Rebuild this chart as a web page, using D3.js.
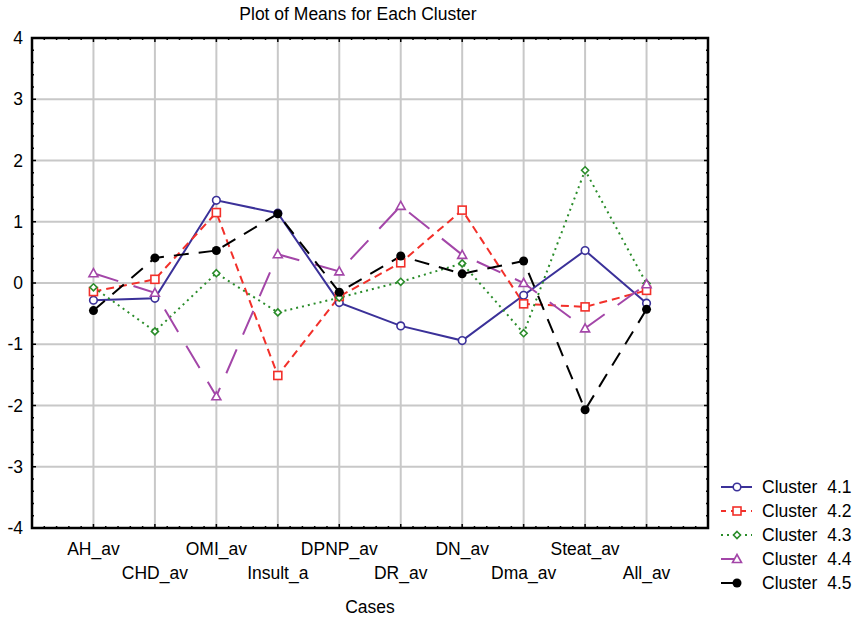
<!DOCTYPE html>
<html>
<head>
<meta charset="utf-8">
<script src="https://d3js.org/d3.v7.min.js"></script>
<style>
  body { margin: 0; background: #fff; }
  svg { font-family: "Liberation Sans", Arial, sans-serif; }
</style>
</head>
<body>
<div id="chart"></div>
<script>
// categories and cluster means
const categories = ["AH_av", "CHD_av", "OMI_av", "Insult_a", "DPNP_av", "DR_av", "DN_av", "Dma_av", "Steat_av", "All_av"];
const cluster41 = [-0.28, -0.25, 1.35, 1.14, -0.32, -0.70, -0.94, -0.20, 0.53, -0.33];
const cluster42 = [-0.14, 0.06, 1.15, -1.51, -0.22, 0.33, 1.19, -0.34, -0.39, -0.12];
const cluster43 = [-0.07, -0.79, 0.16, -0.48, -0.24, 0.02, 0.32, -0.82, 1.84, -0.01];
const cluster44 = [0.16, -0.16, -1.85, 0.47, 0.19, 1.26, 0.46, 0.00, -0.74, -0.02];
const cluster45 = [-0.45, 0.41, 0.53, 1.13, -0.15, 0.44, 0.15, 0.36, -2.07, -0.43];
const yTicks = [-4, -3, -2, -1, 0, 1, 2, 3, 4];

const series = [
  { name: "Cluster  4.1", values: cluster41, color: "#3b3199", dash: null, marker: "circle" },
  { name: "Cluster  4.2", values: cluster42, color: "#f2302a", dash: "8,5", marker: "square" },
  { name: "Cluster  4.3", values: cluster43, color: "#2a8c2a", dash: "2,4", marker: "diamond" },
  { name: "Cluster  4.4", values: cluster44, color: "#a346a8", dash: "26,16", marker: "triangle" },
  { name: "Cluster  4.5", values: cluster45, color: "#000000", dash: "15,10", marker: "dot" }
];

const width = 856, height = 618;
const plot = { left: 32, right: 708, top: 38, bottom: 528 };

const svg = d3.select("#chart").append("svg")
  .attr("width", width)
  .attr("height", height);

// x positions: category i sits at i+1 of 11 intervals
const x = d3.scaleLinear().domain([0, categories.length + 1]).range([plot.left, plot.right]);
const y = d3.scaleLinear().domain([-4, 4]).range([plot.bottom, plot.top]);

// grid
svg.append("g").selectAll("line").data(categories).enter().append("line")
  .attr("x1", (d, i) => x(i + 1)).attr("x2", (d, i) => x(i + 1))
  .attr("y1", plot.top).attr("y2", plot.bottom)
  .attr("stroke", "#c8c8c8").attr("stroke-width", 2);
svg.append("g").selectAll("line").data(yTicks.slice(1, -1)).enter().append("line")
  .attr("x1", plot.left).attr("x2", plot.right)
  .attr("y1", d => y(d)).attr("y2", d => y(d))
  .attr("stroke", "#c8c8c8").attr("stroke-width", 2);

// minor ticks on all four sides
const yMinor = d3.range(-40, 41, 2).map(d => d / 10);
const xMinor = d3.range(0, (categories.length + 1) * 5 + 1).map(d => d / 5);
const ticks = svg.append("g").attr("stroke", "#000");
yMinor.forEach(v => {
  const len = Number.isInteger(v) ? 4 : 2;
  ticks.append("line").attr("x1", plot.left).attr("x2", plot.left + len).attr("y1", y(v)).attr("y2", y(v)).attr("stroke-width", 1.5);
  ticks.append("line").attr("x1", plot.right).attr("x2", plot.right - len).attr("y1", y(v)).attr("y2", y(v)).attr("stroke-width", 1.5);
});
xMinor.forEach(v => {
  const len = Number.isInteger(v) ? 4 : 2;
  ticks.append("line").attr("x1", x(v)).attr("x2", x(v)).attr("y1", plot.top).attr("y2", plot.top + len).attr("stroke-width", 1.5);
  ticks.append("line").attr("x1", x(v)).attr("x2", x(v)).attr("y1", plot.bottom).attr("y2", plot.bottom - len).attr("stroke-width", 1.5);
});

// frame
svg.append("rect")
  .attr("x", plot.left).attr("y", plot.top)
  .attr("width", plot.right - plot.left).attr("height", plot.bottom - plot.top)
  .attr("fill", "none").attr("stroke", "#000").attr("stroke-width", 2.5);

// y tick labels
svg.append("g").selectAll("text").data(yTicks).enter().append("text")
  .attr("x", plot.left - 9).attr("y", d => y(d) + 6)
  .attr("text-anchor", "end")
  .attr("font-size", 17.5)
  .text(d => d);

// x tick labels, staggered
svg.append("g").selectAll("text").data(categories).enter().append("text")
  .attr("x", (d, i) => x(i + 1))
  .attr("y", (d, i) => i % 2 === 0 ? 555 : 579)
  .attr("text-anchor", "middle")
  .attr("font-size", 17.5)
  .text(d => d);

// titles
svg.append("text").attr("x", 358).attr("y", 20).attr("text-anchor", "middle")
  .attr("font-size", 17.5).text("Plot of Means for Each Cluster");
svg.append("text").attr("x", (plot.left + plot.right) / 2).attr("y", 613).attr("text-anchor", "middle")
  .attr("font-size", 17.5).text("Cases");

function drawMarker(g, type, cx, cy, color) {
  if (type === "circle") {
    g.append("circle").attr("cx", cx).attr("cy", cy).attr("r", 3.8)
      .attr("fill", "#fff").attr("stroke", color).attr("stroke-width", 1.6);
  } else if (type === "square") {
    g.append("rect").attr("x", cx - 4).attr("y", cy - 4).attr("width", 8).attr("height", 8)
      .attr("fill", "#fff").attr("stroke", color).attr("stroke-width", 1.6);
  } else if (type === "diamond") {
    g.append("path").attr("d", `M${cx},${cy - 3.5}L${cx + 3.5},${cy}L${cx},${cy + 3.5}L${cx - 3.5},${cy}Z`)
      .attr("fill", "#fff").attr("stroke", color).attr("stroke-width", 1.6);
  } else if (type === "triangle") {
    g.append("path").attr("d", `M${cx},${cy - 4.5}L${cx + 4.5},${cy + 3.5}L${cx - 4.5},${cy + 3.5}Z`)
      .attr("fill", "#fff").attr("stroke", color).attr("stroke-width", 1.6);
  } else {
    g.append("circle").attr("cx", cx).attr("cy", cy).attr("r", 4.5).attr("fill", color);
  }
}

const line = d3.line().x((d, i) => x(i + 1)).y(d => y(d));

series.forEach(s => {
  svg.append("path")
    .attr("d", line(s.values))
    .attr("fill", "none")
    .attr("stroke", s.color)
    .attr("stroke-width", 2)
    .attr("stroke-dasharray", s.dash);
});
series.forEach(s => {
  const g = svg.append("g");
  s.values.forEach((v, i) => drawMarker(g, s.marker, x(i + 1), y(v), s.color));
});

// legend
const legend = svg.append("g");
series.forEach((s, i) => {
  const ly = 487 + i * 24;
  const solidShort = s.marker === "triangle" || s.marker === "dot";
  legend.append("line")
    .attr("x1", 721).attr("x2", solidShort ? 740 : 752).attr("y1", ly).attr("y2", ly)
    .attr("stroke", s.color).attr("stroke-width", 2)
    .attr("stroke-dasharray", solidShort ? null : s.dash === "8,5" ? "5,5" : s.dash);
  drawMarker(legend, s.marker, 737, ly, s.color);
  legend.append("text").attr("x", 762).attr("y", ly + 6)
    .attr("font-size", 17.5)
    .style("white-space", "pre")
    .text(s.name);
});
</script>
</body>
</html>
